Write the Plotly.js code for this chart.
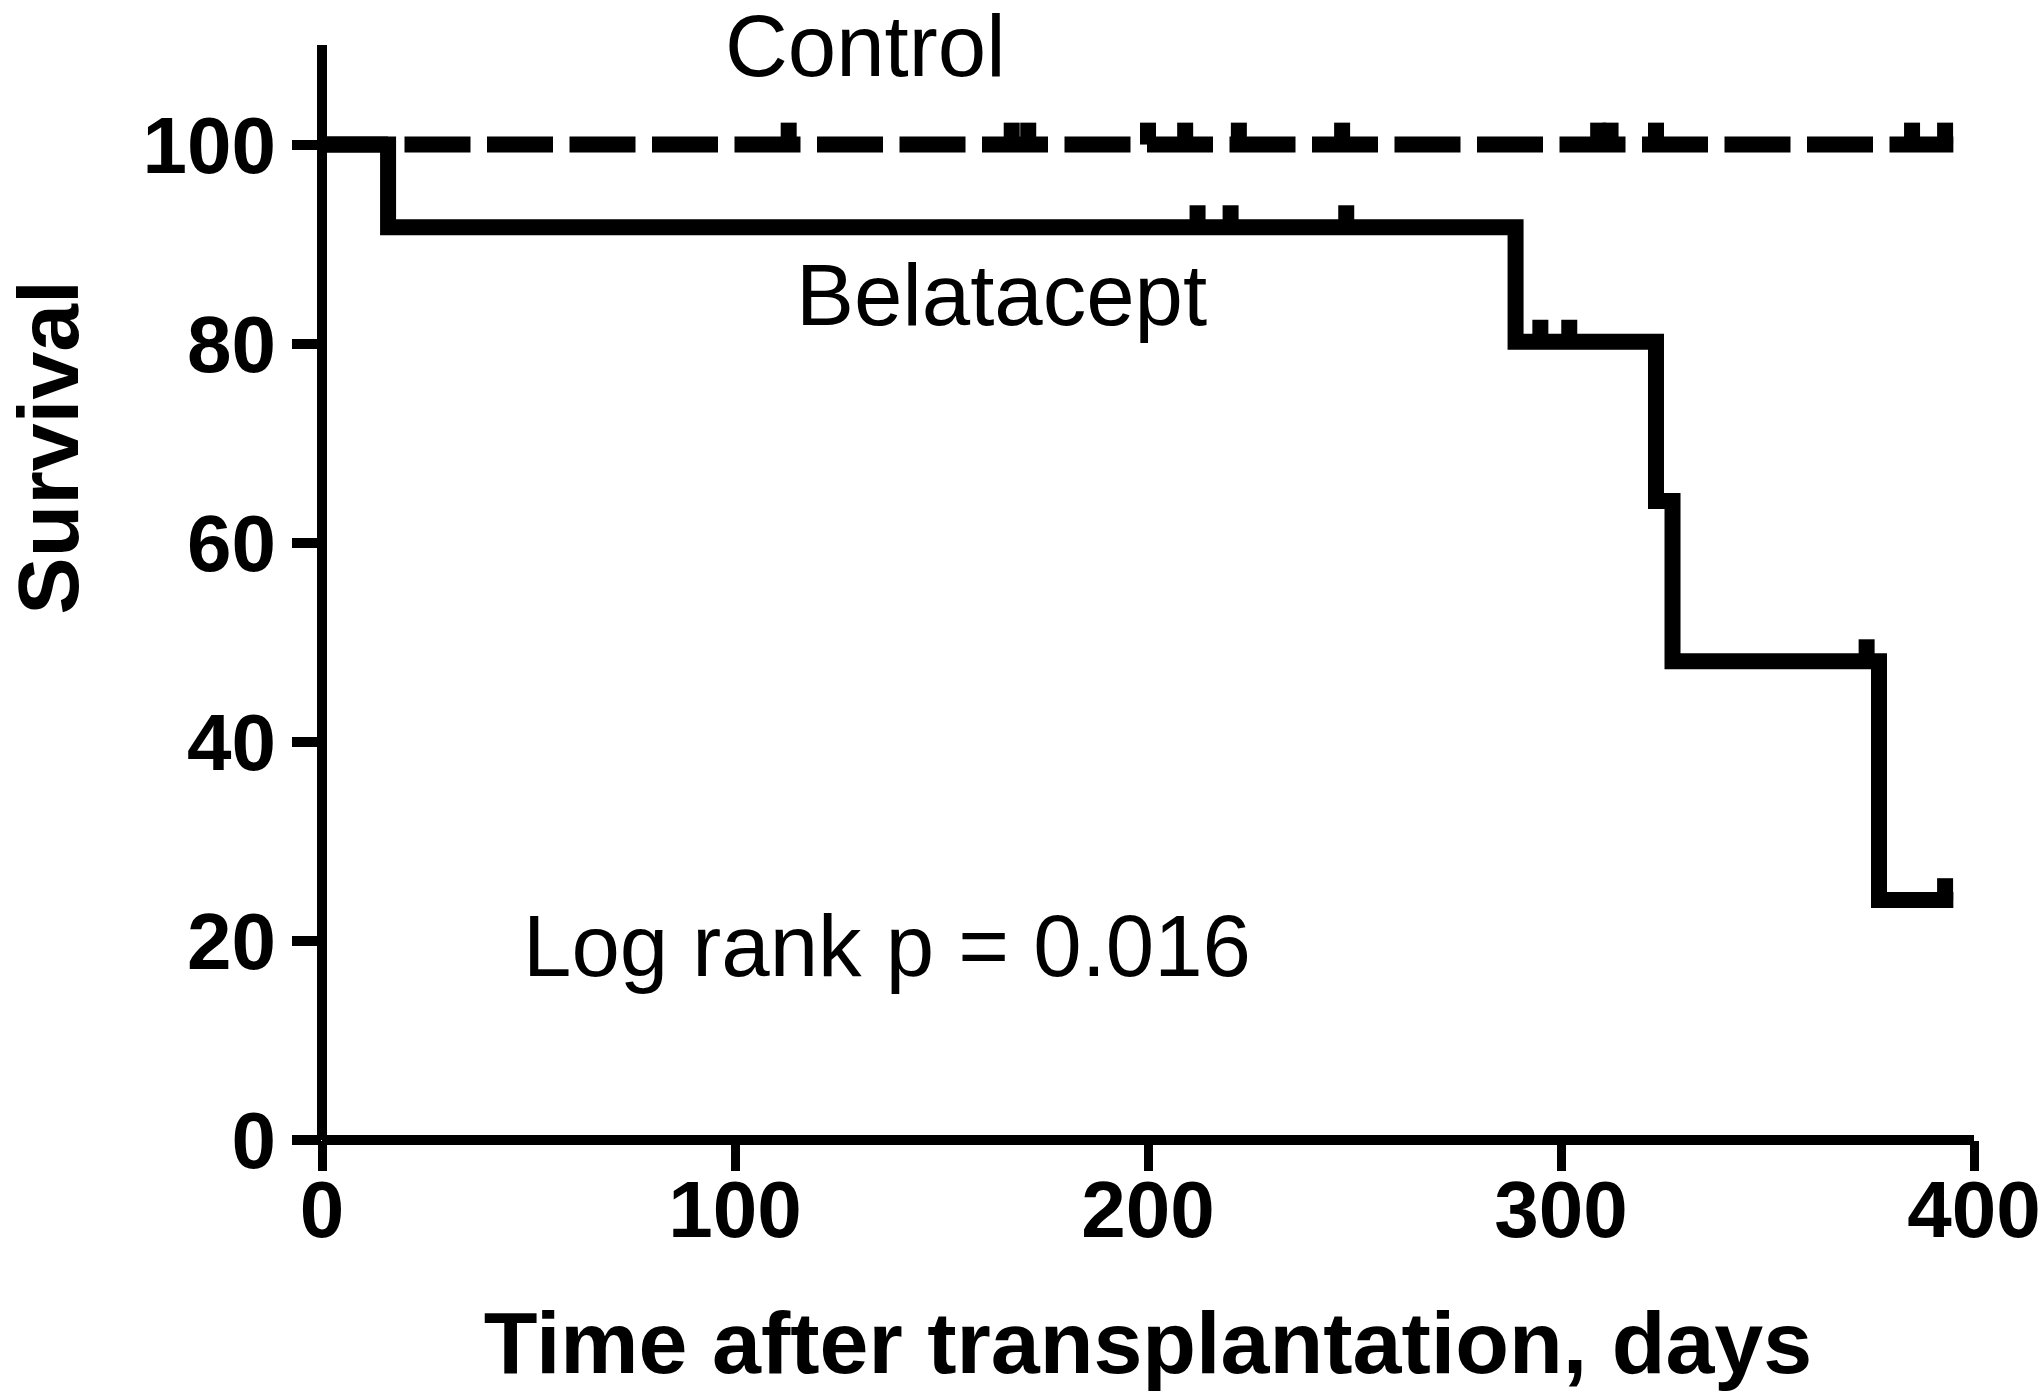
<!DOCTYPE html>
<html>
<head>
<meta charset="utf-8">
<script src="https://cdn.plot.ly/plotly-3.0.1.min.js"></script>
<style>html,body{margin:0;padding:0;background:#fff;}#chart{width:2040px;height:1396px;}</style>
</head>
<body>
<div id="chart"></div>
<script>
// ---- data ----
const controlTimes = [0, 395];
const controlSurvival = [100, 100];
const controlCensored = [113, 167, 171, 200, 209, 222, 247, 309, 312, 323, 385, 393];

const belataceptTimes = [0, 16, 289, 323, 327, 377, 395];
const belataceptSurvival = [100, 91.7, 80.2, 64.2, 48.1, 24.1, 24.1];
const belataceptCensored = [212, 220, 248, 295, 302, 374, 393];

const xTickVals = [0, 100, 200, 300, 400];
const yTickVals = [0, 20, 40, 60, 80, 100];

const labelControl = "Control";
const labelBelatacept = "Belatacept";
const labelLogRank = "Log rank p = 0.016";
const xTitle = "Time after transplantation, days";
const yTitle = "Survival";

// ---- helpers ----
function stepValue(times, surv, t) {
  let v = surv[0];
  for (let i = 0; i < times.length; i++) { if (times[i] <= t) v = surv[i]; }
  return v;
}
const TICK_UP = 2.2;
function censorTrace(times, surv, cens) {
  return {
    x: cens,
    y: cens.map(t => stepValue(times, surv, t)),
    type: 'scatter', mode: 'markers',
    marker: {size: 1, color: 'rgba(0,0,0,0)'},
    error_y: {type: 'data', symmetric: false, array: cens.map(() => TICK_UP), arrayminus: cens.map(() => 0),
              thickness: 16, width: 0, color: '#000'},
    hoverinfo: 'skip', showlegend: false
  };
}

const traces = [
  {x: controlTimes, y: controlSurvival, type: 'scatter', mode: 'lines',
   line: {color: '#000', width: 16, dash: '66px,16.5px', shape: 'hv'}, showlegend: false},
  censorTrace(controlTimes, controlSurvival, controlCensored),
  {x: belataceptTimes, y: belataceptSurvival, type: 'scatter', mode: 'lines',
   line: {color: '#000', width: 16, shape: 'hv'}, showlegend: false},
  censorTrace(belataceptTimes, belataceptSurvival, belataceptCensored)
];

const tickFont = {family: 'Liberation Sans, Arial, sans-serif', size: 80, color: '#000', weight: 'bold'};
const textFont = {family: 'Liberation Sans, Arial, sans-serif', size: 87, color: '#000'};

const layout = {
  width: 2040, height: 1396,
  paper_bgcolor: '#fff', plot_bgcolor: '#fff',
  margin: {l: 322, r: 66, t: 45, b: 256},
  showlegend: false,
  xaxis: {
    range: [0, 400], tickvals: xTickVals, ticktext: xTickVals.map(String),
    showgrid: false, showline: false, zeroline: true, zerolinecolor: '#000', zerolinewidth: 10,
    ticks: 'outside', ticklen: 30, tickwidth: 9, tickcolor: '#000',
    tickfont: tickFont, ticklabelstandoff: -30, ticklabeloverflow: 'allow',
    title: {text: xTitle, font: {family: 'Liberation Sans, Arial, sans-serif', size: 88, color: '#000', weight: 'bold'}, standoff: 58},
    automargin: false, fixedrange: true
  },
  yaxis: {
    range: [0, 110], tickvals: yTickVals, ticktext: yTickVals.map(String),
    showgrid: false, showline: false, zeroline: true, zerolinecolor: '#000', zerolinewidth: 10,
    ticks: 'outside', ticklen: 29, tickwidth: 10, tickcolor: '#000',
    tickfont: tickFont, ticklabelstandoff: 0, ticklabeloverflow: 'allow',
    automargin: false, fixedrange: true
  },
  annotations: [
    {x: 131.4, y: 1.0, xref: 'x', yref: 'paper', text: labelControl, showarrow: false,
     font: textFont, xanchor: 'center', yanchor: 'middle'},
    {x: 164.6, y: 84.9, xref: 'x', yref: 'y', text: labelBelatacept, showarrow: false,
     font: textFont, xanchor: 'center', yanchor: 'middle'},
    {x: 136.8, y: 19.5, xref: 'x', yref: 'y', text: labelLogRank, showarrow: false,
     font: textFont, xanchor: 'center', yanchor: 'middle'},
    {x: -0.166, y: 0.633, xref: 'paper', yref: 'paper', text: yTitle, showarrow: false, textangle: -90,
     font: {family: 'Liberation Sans, Arial, sans-serif', size: 86, color: '#000', weight: 'bold'},
     xanchor: 'center', yanchor: 'middle'}
  ]
};

Plotly.newPlot('chart', traces, layout, {staticPlot: true, displayModeBar: false});
</script>
</body>
</html>
